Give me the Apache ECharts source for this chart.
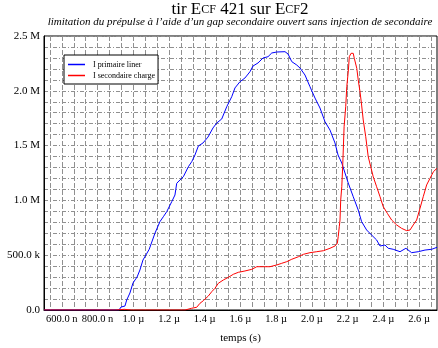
<!DOCTYPE html>
<html>
<head>
<meta charset="utf-8">
<script src="https://cdn.jsdelivr.net/npm/echarts@6/dist/echarts.min.js"></script>
<style>html,body{margin:0;padding:0;background:#fff;}#c{width:438px;height:348px;}</style>
</head>
<body>
<div id="c"></div>
<script>
// time in microseconds, current in mega-amperes
const timeBlue = [0.500,0.702,0.920,0.931,0.953,0.963,0.981,0.998,1.021,1.037,1.054,1.077,1.089,1.121,1.149,1.168,1.187,1.215,1.233,1.243,1.261,1.280,1.308,1.327,1.345,1.364,1.390,1.418,1.446,1.467,1.495,1.523,1.551,1.569,1.597,1.625,1.653,1.670,1.698,1.726,1.754,1.775,1.803,1.849,1.866,1.887,1.915,1.933,1.961,1.989,2.017,2.045,2.073,2.101,2.129,2.146,2.167,2.185,2.203,2.231,2.259,2.278,2.306,2.334,2.362,2.381,2.409,2.427,2.455,2.493,2.526,2.558,2.595,2.633,2.670,2.700];
const currentBlue = [0.000,0.000,0.000,0.027,0.036,0.091,0.155,0.246,0.301,0.365,0.456,0.520,0.554,0.700,0.806,0.851,0.897,0.988,1.049,1.156,1.186,1.216,1.307,1.353,1.414,1.496,1.524,1.578,1.661,1.706,1.743,1.855,1.946,2.026,2.083,2.117,2.174,2.226,2.254,2.299,2.311,2.345,2.354,2.357,2.336,2.266,2.235,2.208,2.144,2.037,1.934,1.843,1.718,1.642,1.524,1.414,1.341,1.250,1.159,1.034,0.912,0.806,0.730,0.684,0.639,0.584,0.593,0.563,0.554,0.532,0.563,0.523,0.532,0.547,0.554,0.572];
const timeRed = [0.500,0.530,0.540,0.600,0.610,0.660,0.670,0.710,0.720,0.780,0.790,0.840,0.850,0.900,0.910,0.950,0.960,0.990,1.000,1.290,1.299,1.327,1.355,1.373,1.392,1.420,1.439,1.457,1.476,1.504,1.532,1.560,1.588,1.625,1.663,1.691,1.728,1.765,1.803,1.831,1.859,1.887,1.924,1.952,1.989,2.027,2.064,2.101,2.129,2.142,2.147,2.153,2.157,2.161,2.167,2.172,2.180,2.189,2.195,2.204,2.209,2.219,2.231,2.237,2.251,2.259,2.269,2.278,2.287,2.301,2.315,2.329,2.343,2.362,2.381,2.399,2.422,2.446,2.474,2.502,2.530,2.549,2.567,2.586,2.605,2.623,2.642,2.661,2.680,2.700];
const currentRed = [0.000,0.000,0.008,0.000,0.006,0.000,0.008,0.000,0.006,0.000,0.008,0.000,0.006,0.000,0.010,0.006,0.012,0.000,0.000,0.000,0.006,0.016,0.025,0.061,0.085,0.128,0.167,0.198,0.244,0.274,0.298,0.326,0.344,0.356,0.371,0.395,0.395,0.395,0.411,0.426,0.441,0.463,0.486,0.508,0.523,0.532,0.541,0.563,0.584,0.609,0.669,0.760,0.821,1.004,1.125,1.307,1.672,1.855,2.037,2.190,2.311,2.342,2.342,2.297,2.205,2.099,1.992,1.870,1.734,1.581,1.399,1.307,1.216,1.125,1.034,0.943,0.882,0.821,0.776,0.745,0.724,0.730,0.776,0.821,0.928,1.034,1.141,1.202,1.262,1.293];
const xTickLabels = [0.6,0.8,1.0,1.2,1.4,1.6,1.8,2.0,2.2,2.4,2.6];
const yTickLabels = [0,0.5,1.0,1.5,2.0,2.5];
const seriesNames = ['I primaire liner','I secondaire charge'];

const X_MIN = 0.5, X_MAX = 2.7;
const xGrid = [];
for (let k = -1; k <= 40; k++) {
  const v = +(0.6 + k * 0.2 / 3).toFixed(6);
  if (v > X_MIN && v < X_MAX) xGrid.push(v);
}
const serif = 'Liberation Serif';

const chart = echarts.init(document.getElementById('c'), null, {renderer: 'canvas'});
chart.setOption({
  animation: false,
  backgroundColor: '#fff',
  title: [{
    text: '{a|tir E}{b|CF}{a| 421 sur E}{b|CF}{a|2}',
    left: 240, top: 1, textAlign: 'center', padding: 0,
    textStyle: {
      fontWeight: 'normal',
      rich: {
        a: {fontFamily: serif, fontSize: 17, fontWeight: 'normal', color: '#000'},
        b: {fontFamily: serif, fontSize: 12, fontWeight: 'normal', color: '#000'}
      }
    }
  }, {
    text: 'limitation du prépulse à l’aide d’un gap secondaire ouvert sans injection de secondaire',
    left: 240, top: 17, textAlign: 'center', padding: 0,
    textStyle: {fontFamily: serif, fontSize: 11, fontStyle: 'italic', fontWeight: 'normal', color: '#000'}
  }],
  legend: {
    orient: 'vertical', left: 64, top: 55,
    data: seriesNames.map(n => ({name: n, icon: 'rect'})),
    backgroundColor: '#fff', borderColor: '#000', borderWidth: 1,
    padding: [5, 3, 4, 4], itemGap: 2, itemWidth: 17, itemHeight: 1.5,
    textStyle: {fontFamily: serif, fontSize: 8, color: '#000', padding: [0, 0, 0, 3], lineHeight: 9}
  },
  grid: {left: 44, right: 1, top: 36, bottom: 38, show: true, borderColor: '#000', borderWidth: 1,
         containLabel: false, outerBoundsMode: 'none'},
  xAxis: {
    type: 'value', min: X_MIN, max: X_MAX,
    name: 'temps (s)', nameLocation: 'middle', nameGap: 23,
    nameTextStyle: {fontFamily: serif, fontSize: 11, color: '#000'},
    axisLine: {show: true, lineStyle: {color: '#000', width: 1}},
    axisTick: {show: false, customValues: xGrid},
    axisLabel: {
      customValues: xTickLabels, margin: 4,
      fontFamily: serif, fontSize: 10.5, color: '#000',
      formatter: v => v < 0.999 ? (v * 1000).toFixed(1) + ' n' : v.toFixed(1) + ' µ'
    },
    splitLine: {show: true, lineStyle: {color: '#909090', width: 1, type: [5, 2]}}
  },
  yAxis: {
    type: 'value', min: 0, max: 2.5, interval: 0.1,
    name: 'courant (A)', nameLocation: 'middle', nameGap: 31,
    nameTextStyle: {fontFamily: serif, fontSize: 11, color: '#000'},
    axisLine: {show: true, lineStyle: {color: '#000', width: 1}},
    axisTick: {show: false},
    axisLabel: {
      margin: 4, fontFamily: serif, fontSize: 11, color: '#000',
      formatter: v => {
        const r = Math.round(v * 10);
        if (r % 5 !== 0) return '';
        const m = r / 10;
        if (m === 0) return '0.0';
        if (m < 1) return (m * 1000).toFixed(1) + ' k';
        return m.toFixed(1) + ' M';
      }
    },
    splitLine: {show: true, lineStyle: {color: '#909090', width: 1, type: [4, 2, 1, 2]}}
  },
  series: [{
    name: seriesNames[0], type: 'line', symbol: 'none',
    lineStyle: {color: '#0000ff', width: 1}, itemStyle: {color: '#0000ff'},
    data: timeBlue.map((t, i) => [t, currentBlue[i]])
  }, {
    name: seriesNames[1], type: 'line', symbol: 'none',
    lineStyle: {color: '#ff0000', width: 1}, itemStyle: {color: '#ff0000'},
    data: timeRed.map((t, i) => [t, currentRed[i]])
  }]
});
</script>
</body>
</html>
